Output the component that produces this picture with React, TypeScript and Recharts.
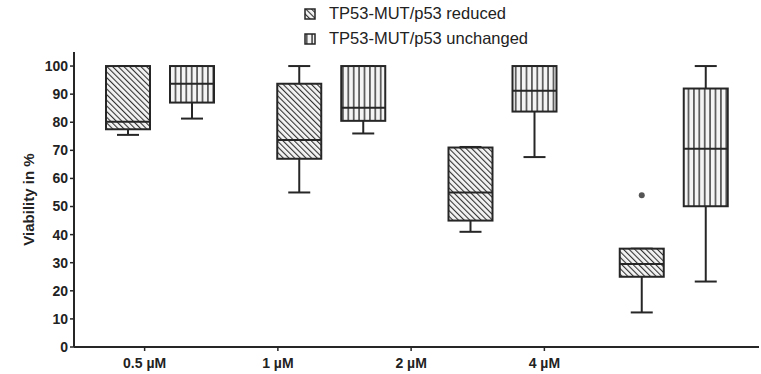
import { ComposedChart, Bar, XAxis, YAxis, Legend } from "recharts";

const doses = ["0.5 µM", "1 µM", "2 µM", "4 µM"];

// TP53-MUT/p53 reduced
const reducedMin = [75.5, 55, 41, 12.3];
const reducedQ1 = [77.5, 67, 45, 25];
const reducedMed = [80.2, 73.7, 55, 29.5];
const reducedQ3 = [100, 93.7, 71, 35];
const reducedMax = [100, 100, 71.2, 35];
const reducedOut: (number | null)[] = [null, null, null, 54];

// TP53-MUT/p53 unchanged
const unchangedMin = [81.3, 76, 67.6, 23.3];
const unchangedQ1 = [87, 80.5, 83.8, 50.1];
const unchangedMed = [93.7, 85.2, 91.2, 70.6];
const unchangedQ3 = [100, 100, 100, 92];
const unchangedMax = [100, 100, 100, 100];
const unchangedOut: (number | null)[] = [null, null, null, null];

const yTicks = [0, 10, 20, 30, 40, 50, 60, 70, 80, 90, 100];

const ink = "#262626";

type Stats = { min: number; q1: number; med: number; q3: number; max: number; out: number | null };

const data = doses.map((dose, i) => ({
  dose,
  reduced: {
    min: reducedMin[i], q1: reducedQ1[i], med: reducedMed[i], q3: reducedQ3[i], max: reducedMax[i], out: reducedOut[i],
  } as Stats,
  unchanged: {
    min: unchangedMin[i], q1: unchangedQ1[i], med: unchangedMed[i], q3: unchangedQ3[i], max: unchangedMax[i], out: unchangedOut[i],
  } as Stats,
}));

// box drawn inside the bar that spans min..max
function makeBox(key: "reduced" | "unchanged", fill: string) {
  return (props: any) => {
    const { x, y, width, height, payload } = props;
    const b: Stats = payload[key];
    const k = height / (b.max - b.min);
    const py = (v: number) => y + (b.max - v) * k;
    const cx = x + width / 2;
    const cap = width / 4;
    return (
      <g>
        <line x1={cx} x2={cx} y1={py(b.max)} y2={py(b.q3)} stroke={ink} strokeWidth={2} />
        <line x1={cx} x2={cx} y1={py(b.q1)} y2={py(b.min)} stroke={ink} strokeWidth={2} />
        <line x1={cx - cap} x2={cx + cap} y1={py(b.max)} y2={py(b.max)} stroke={ink} strokeWidth={2} />
        <line x1={cx - cap} x2={cx + cap} y1={py(b.min)} y2={py(b.min)} stroke={ink} strokeWidth={2} />
        <rect x={x} y={py(b.q3)} width={width} height={py(b.q1) - py(b.q3)} fill={fill} stroke={ink} strokeWidth={2} />
        <line x1={x} x2={x + width} y1={py(b.med)} y2={py(b.med)} stroke={ink} strokeWidth={2} />
        {b.out != null && <circle cx={cx} cy={py(b.out)} r={3} fill="#555" />}
      </g>
    );
  };
}

const legendItems = [
  { label: "TP53-MUT/p53 reduced", fill: "url(#hatchDiag)" },
  { label: "TP53-MUT/p53 unchanged", fill: "url(#hatchVert)" },
];

function LegendBox() {
  return (
    <div style={{ fontSize: 16.5, color: "#222", lineHeight: "25px" }}>
      {legendItems.map((it) => (
        <div key={it.label} style={{ display: "flex", alignItems: "center" }}>
          <svg width={12} height={12} style={{ marginRight: 13 }}>
            <rect x={1} y={1} width={10} height={10} fill={it.fill} stroke={ink} strokeWidth={1.5} />
          </svg>
          {it.label}
        </div>
      ))}
    </div>
  );
}

export default function App() {
  return (
    <div style={{ position: "absolute", left: 0, top: 0, background: "#fff", fontFamily: "'Liberation Sans', Arial, sans-serif" }}>
      <ComposedChart width={761} height={374} data={data} margin={{ top: 52, right: 2, bottom: 5, left: 0 }} barGap={20}>
        <defs>
          <pattern id="hatchDiag" patternUnits="userSpaceOnUse" width={4} height={4} patternTransform="rotate(-45)">
            <rect width={4} height={4} fill="#f4f4f4" />
            <line x1={0} y1={0} x2={0} y2={4} stroke="#333" strokeWidth={2.2} />
          </pattern>
          <pattern id="hatchVert" patternUnits="userSpaceOnUse" width={5.4} height={5.4}>
            <rect width={5.4} height={5.4} fill="#f4f4f4" />
            <line x1={2.7} y1={0} x2={2.7} y2={5.4} stroke="#333" strokeWidth={1.4} />
          </pattern>
        </defs>
        <XAxis
          xAxisId="tick"
          dataKey="dose"
          padding={{ left: 4, right: 148 }}
          height={22}
          tick={{ fill: "#222", fontSize: 14, fontWeight: "bold", dy: 5 }}
          axisLine={{ stroke: ink, strokeWidth: 2 }}
          tickLine={{ stroke: ink, strokeWidth: 1.5 }}
          tickSize={4}
        />
        <XAxis xAxisId="box" dataKey="dose" hide height={0} />
        <YAxis
          type="number"
          domain={[0, 105]}
          ticks={yTicks}
          width={74}
          tick={{ fill: "#222", fontSize: 14, fontWeight: "bold" }}
          axisLine={{ stroke: ink, strokeWidth: 2 }}
          tickLine={{ stroke: ink, strokeWidth: 1.5 }}
          tickSize={4}
          label={{ value: "Viability in %", angle: -90, position: "center", dx: -8, style: { fontSize: 15, fontWeight: "bold", fill: "#222" } }}
        />
        <Legend
          layout="vertical"
          align="center"
          verticalAlign="middle"
          content={() => <LegendBox />}
          wrapperStyle={{ top: 1, left: 304, width: 260 }}
        />
        <Bar
          xAxisId="box"
          dataKey={(d: any) => [d.reduced.min, d.reduced.max]}
          barSize={44}
          shape={makeBox("reduced", "url(#hatchDiag)")}
          isAnimationActive={false}
        />
        <Bar
          xAxisId="box"
          dataKey={(d: any) => [d.unchanged.min, d.unchanged.max]}
          barSize={44}
          shape={makeBox("unchanged", "url(#hatchVert)")}
          isAnimationActive={false}
        />
      </ComposedChart>
    </div>
  );
}
